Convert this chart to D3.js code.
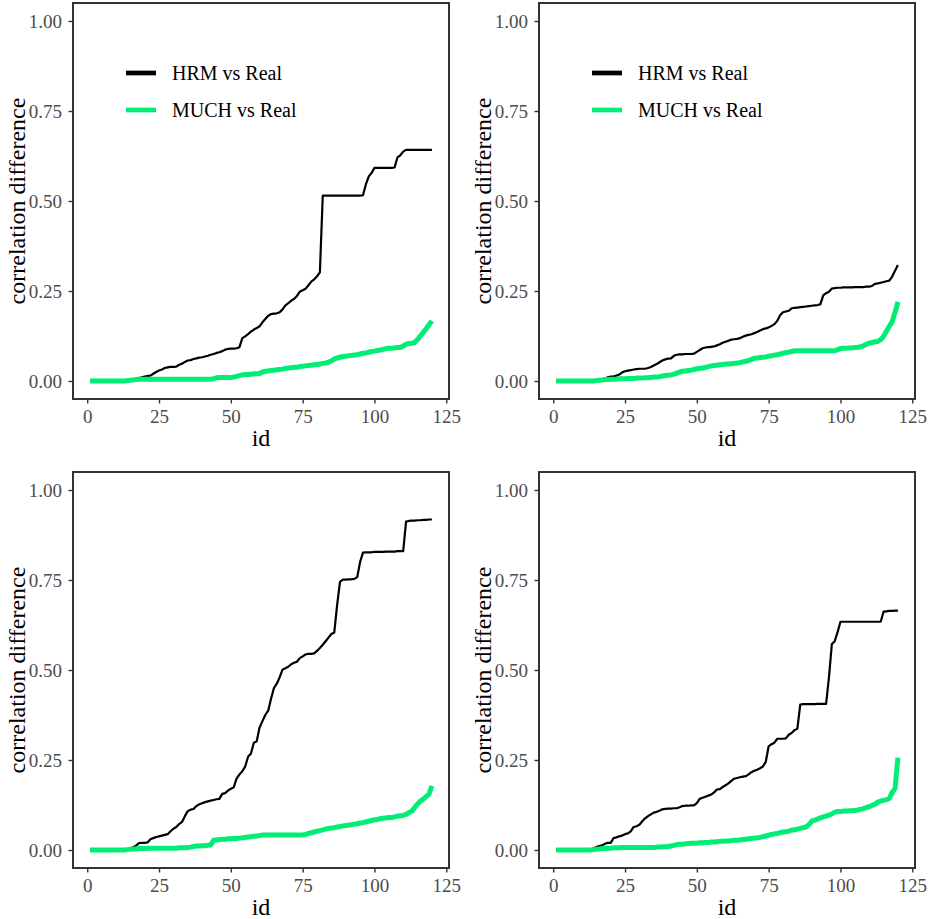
<!DOCTYPE html>
<html>
<head>
<meta charset="utf-8">
<script src="https://cdn.jsdelivr.net/npm/d3@7"></script>
<style>
  body { margin: 0; background: #fff; }
  svg { display: block; font-family: "Liberation Serif", "DejaVu Serif", serif; }
  .tick text { fill: #4d4d4d; font-size: 19px; font-family: "Liberation Serif", "DejaVu Serif", serif; }
  .tick line { stroke: #333; stroke-width: 1.4px; }
  .axis-title { fill: #000; font-size: 24px; }
  .legend-text { fill: #000; font-size: 20px; }
</style>
</head>
<body>
<script>
const width = 928;
const height = 919;

// grid of four panels
const panelW = 376;
const panelH = 396;
const colLeft = [73, 539];
const rowTop = [3, 472];

const xTicks = [0, 25, 50, 75, 100, 125];
const yTicks = [0, 0.25, 0.5, 0.75, 1];
const seriesNames = ["HRM vs Real", "MUCH vs Real"];
const seriesColors = ["#000000", "#00ee76"];

// sorted correlation differences per id (1..120)
const hrm1 = [
  0, 0, 0, 0, 0, 0, 0, 0, 0, 0,
  0, 0, 0, 0, 0.001, 0.002, 0.004, 0.008, 0.01, 0.012,
  0.014, 0.015, 0.02, 0.025, 0.029, 0.032, 0.036, 0.038, 0.039, 0.039,
  0.04, 0.045, 0.048, 0.053, 0.057, 0.058, 0.061, 0.063, 0.065, 0.066,
  0.068, 0.07, 0.073, 0.075, 0.078, 0.08, 0.083, 0.087, 0.089, 0.09,
  0.09, 0.091, 0.094, 0.119, 0.124, 0.13, 0.137, 0.143, 0.147, 0.152,
  0.163, 0.172, 0.181, 0.186, 0.187, 0.188, 0.191, 0.199, 0.21, 0.216,
  0.223, 0.228, 0.236, 0.248, 0.252, 0.256, 0.266, 0.276, 0.282, 0.291,
  0.302, 0.515, 0.515, 0.515, 0.515, 0.515, 0.515, 0.515, 0.515, 0.515,
  0.515, 0.515, 0.515, 0.515, 0.515, 0.516, 0.546, 0.568, 0.578, 0.592,
  0.592, 0.592, 0.592, 0.592, 0.592, 0.592, 0.593, 0.621, 0.627, 0.637,
  0.642, 0.642, 0.642, 0.642, 0.642, 0.642, 0.642, 0.642, 0.642, 0.642
];
const much1 = [
  0, 0, 0, 0, 0, 0, 0, 0, 0, 0,
  0, 0, 0, 0.001, 0.002, 0.003, 0.004, 0.005, 0.005, 0.005,
  0.005, 0.005, 0.005, 0.005, 0.005, 0.005, 0.005, 0.005, 0.005, 0.005,
  0.005, 0.005, 0.005, 0.005, 0.005, 0.005, 0.005, 0.005, 0.005, 0.005,
  0.005, 0.005, 0.005, 0.006, 0.009, 0.01, 0.01, 0.01, 0.01, 0.01,
  0.011, 0.013, 0.015, 0.017, 0.018, 0.018, 0.019, 0.02, 0.02, 0.021,
  0.025, 0.027, 0.028, 0.029, 0.03, 0.031, 0.032, 0.033, 0.035, 0.036,
  0.037, 0.038, 0.038, 0.04, 0.041, 0.042, 0.043, 0.044, 0.045, 0.046,
  0.047, 0.049, 0.05, 0.052, 0.056, 0.061, 0.064, 0.066, 0.068, 0.069,
  0.07, 0.071, 0.072, 0.073, 0.075, 0.077, 0.078, 0.08, 0.082, 0.083,
  0.085, 0.086, 0.088, 0.09, 0.091, 0.091, 0.092, 0.093, 0.093, 0.097,
  0.102, 0.104, 0.105, 0.107, 0.115, 0.125, 0.135, 0.145, 0.156, 0.167
];

const hrm2 = [
  0, 0, 0, 0, 0, 0, 0, 0, 0, 0,
  0, 0, 0, 0, 0.001, 0.002, 0.004, 0.007, 0.01, 0.012,
  0.013, 0.015, 0.018, 0.024, 0.027, 0.029, 0.03, 0.032, 0.033, 0.034,
  0.034, 0.034, 0.036, 0.039, 0.043, 0.047, 0.052, 0.057, 0.06, 0.062,
  0.063, 0.07, 0.073, 0.074, 0.074, 0.075, 0.075, 0.075, 0.076, 0.081,
  0.086, 0.091, 0.093, 0.094, 0.095, 0.096, 0.099, 0.102, 0.106, 0.109,
  0.112, 0.115, 0.116, 0.117, 0.119, 0.123, 0.126, 0.128, 0.13, 0.133,
  0.136, 0.14, 0.144, 0.146, 0.149, 0.153, 0.158, 0.167, 0.183, 0.191,
  0.193, 0.195, 0.202, 0.203, 0.204, 0.205, 0.206, 0.207, 0.208, 0.209,
  0.21, 0.211, 0.213, 0.238, 0.244, 0.248, 0.257, 0.258, 0.259, 0.259,
  0.26, 0.26, 0.26, 0.26, 0.261, 0.261, 0.261, 0.261, 0.262, 0.262,
  0.264, 0.27, 0.271, 0.273, 0.275, 0.277, 0.279, 0.29, 0.306, 0.322
];
const much2 = [
  0, 0, 0, 0, 0, 0, 0, 0, 0, 0,
  0, 0, 0, 0, 0.001, 0.002, 0.003, 0.004, 0.004, 0.005,
  0.005, 0.005, 0.006, 0.006, 0.006, 0.007, 0.007, 0.007, 0.008, 0.008,
  0.008, 0.009, 0.009, 0.01, 0.011, 0.011, 0.012, 0.014, 0.015, 0.016,
  0.017, 0.019, 0.022, 0.025, 0.027, 0.028, 0.029, 0.03, 0.032, 0.034,
  0.035, 0.036, 0.038, 0.04, 0.042, 0.043, 0.044, 0.045, 0.046, 0.047,
  0.047, 0.048, 0.049, 0.05, 0.051, 0.053, 0.055, 0.057, 0.06, 0.063,
  0.064, 0.065, 0.066, 0.067, 0.069, 0.07, 0.072, 0.073, 0.075, 0.077,
  0.079, 0.08, 0.082, 0.084, 0.084, 0.084, 0.084, 0.084, 0.084, 0.084,
  0.084, 0.084, 0.084, 0.084, 0.084, 0.084, 0.084, 0.084, 0.087, 0.09,
  0.091, 0.091, 0.092, 0.092, 0.093, 0.093, 0.095, 0.098, 0.102, 0.105,
  0.107, 0.109, 0.11, 0.115, 0.124, 0.138, 0.152, 0.165, 0.19, 0.22
];

const hrm3 = [
  0, 0, 0, 0, 0, 0, 0, 0, 0, 0,
  0, 0, 0, 0, 0.004, 0.008, 0.012, 0.019, 0.02, 0.02,
  0.021, 0.03, 0.033, 0.036, 0.038, 0.04, 0.042, 0.044, 0.052, 0.059,
  0.064, 0.072, 0.078, 0.094, 0.108, 0.112, 0.114, 0.122, 0.127, 0.13,
  0.133, 0.135, 0.137, 0.139, 0.141, 0.142, 0.156, 0.158, 0.165, 0.17,
  0.174, 0.198, 0.21, 0.219, 0.232, 0.259, 0.268, 0.298, 0.302, 0.34,
  0.358, 0.375, 0.387, 0.42, 0.45, 0.462, 0.48, 0.501, 0.505, 0.509,
  0.516, 0.52, 0.523, 0.533, 0.538, 0.543, 0.545, 0.545, 0.546, 0.553,
  0.561, 0.57, 0.58, 0.59, 0.6, 0.604, 0.68, 0.745, 0.751, 0.751,
  0.752, 0.752, 0.753, 0.758, 0.8, 0.826, 0.827, 0.827, 0.827, 0.828,
  0.828, 0.828, 0.828, 0.829, 0.829, 0.829, 0.829, 0.83, 0.83, 0.83,
  0.912, 0.914, 0.915, 0.915, 0.916, 0.916, 0.917, 0.917, 0.918, 0.918
];
const much3 = [
  0, 0, 0, 0, 0, 0, 0, 0, 0, 0,
  0, 0, 0, 0.001, 0.002, 0.003, 0.003, 0.004, 0.004, 0.004,
  0.005, 0.005, 0.005, 0.005, 0.005, 0.005, 0.005, 0.005, 0.005, 0.005,
  0.005, 0.006, 0.006, 0.006, 0.007, 0.008, 0.01, 0.011, 0.011, 0.012,
  0.012, 0.013, 0.014, 0.027, 0.028, 0.029, 0.03, 0.03, 0.031, 0.031,
  0.032, 0.032, 0.033, 0.034, 0.035, 0.036, 0.037, 0.038, 0.039, 0.04,
  0.042, 0.042, 0.042, 0.042, 0.042, 0.042, 0.042, 0.042, 0.042, 0.042,
  0.042, 0.042, 0.042, 0.042, 0.042, 0.043, 0.046, 0.048, 0.05, 0.052,
  0.054, 0.056, 0.058, 0.06, 0.061, 0.062, 0.064, 0.065, 0.067, 0.068,
  0.069, 0.07, 0.072, 0.073, 0.075, 0.076, 0.078, 0.08, 0.082, 0.084,
  0.085, 0.087, 0.088, 0.089, 0.09, 0.09, 0.092, 0.094, 0.095, 0.096,
  0.099, 0.104, 0.108, 0.118, 0.128, 0.136, 0.141, 0.148, 0.155, 0.178
];

const hrm4 = [
  0, 0, 0, 0, 0, 0, 0, 0, 0, 0,
  0, 0, 0, 0.005, 0.008, 0.011, 0.013, 0.017, 0.02, 0.02,
  0.033, 0.035, 0.038, 0.04, 0.044, 0.046, 0.052, 0.064, 0.066, 0.07,
  0.08, 0.088, 0.094, 0.099, 0.104, 0.106, 0.109, 0.113, 0.114, 0.115,
  0.115, 0.116, 0.116, 0.119, 0.122, 0.123, 0.123, 0.124, 0.124, 0.13,
  0.142, 0.145, 0.148, 0.151, 0.154, 0.16, 0.168, 0.169, 0.175, 0.18,
  0.185, 0.192, 0.198, 0.2, 0.202, 0.204, 0.205, 0.21, 0.216, 0.22,
  0.223, 0.227, 0.232, 0.245, 0.288, 0.294, 0.298, 0.309, 0.309, 0.309,
  0.31, 0.32, 0.325, 0.333, 0.337, 0.404, 0.405, 0.405, 0.405, 0.405,
  0.405, 0.406, 0.406, 0.406, 0.406, 0.48, 0.572, 0.58, 0.605, 0.634,
  0.634, 0.634, 0.634, 0.634, 0.634, 0.634, 0.634, 0.634, 0.634, 0.634,
  0.634, 0.634, 0.634, 0.634, 0.662, 0.663, 0.664, 0.664, 0.665, 0.665
];
const much4 = [
  0, 0, 0, 0, 0, 0, 0, 0, 0, 0,
  0, 0, 0, 0.001, 0.002, 0.003, 0.004, 0.004, 0.005, 0.005,
  0.006, 0.006, 0.006, 0.007, 0.007, 0.007, 0.007, 0.007, 0.007, 0.007,
  0.007, 0.007, 0.007, 0.007, 0.007, 0.008, 0.008, 0.009, 0.009, 0.01,
  0.011, 0.013, 0.015, 0.016, 0.016, 0.017, 0.018, 0.019, 0.019, 0.019,
  0.02, 0.02, 0.021, 0.021, 0.022, 0.022, 0.023, 0.024, 0.024, 0.025,
  0.025, 0.026, 0.027, 0.027, 0.028, 0.029, 0.03, 0.031, 0.032, 0.033,
  0.034, 0.035, 0.037, 0.039, 0.041, 0.043, 0.045, 0.046, 0.048, 0.05,
  0.051, 0.052, 0.055, 0.056, 0.058, 0.06, 0.062, 0.064, 0.07, 0.08,
  0.083, 0.086, 0.089, 0.092, 0.094, 0.097, 0.1, 0.105, 0.107, 0.107,
  0.108, 0.108, 0.109, 0.109, 0.11, 0.111, 0.113, 0.115, 0.118, 0.12,
  0.124, 0.127, 0.133, 0.136, 0.138, 0.14, 0.143, 0.16, 0.17, 0.256
];

const panels = [
  { series: [hrm1, much1], col: 0, row: 0, legend: true },
  { series: [hrm2, much2], col: 1, row: 0, legend: true },
  { series: [hrm3, much3], col: 0, row: 1, legend: false },
  { series: [hrm4, much4], col: 1, row: 1, legend: false }
];

const svg = d3
  .select("body")
  .append("svg")
  .attr("width", width)
  .attr("height", height);

// ggplot style 5% expansion: x data 1..120, y limits 0..1
const xScale = d3.scaleLinear().domain([1 - 5.95, 120 + 5.95]).range([0, panelW]);
const yScale = d3.scaleLinear().domain([-0.05, 1.05]).range([panelH, 0]);

const line = d3
  .line()
  .x((d, i) => xScale(i + 1))
  .y(d => yScale(d));

panels.forEach(p => {
  const g = svg
    .append("g")
    .attr("transform", `translate(${colLeft[p.col]},${rowTop[p.row]})`);

  // axes
  const xAxis = g
    .append("g")
    .attr("transform", `translate(0,${panelH})`)
    .call(d3.axisBottom(xScale).tickValues(xTicks).tickSize(4.5).tickPadding(6));
  xAxis.select(".domain").remove();
  xAxis.attr("font-family", null).attr("font-size", null);

  const yAxis = g
    .append("g")
    .call(
      d3
        .axisLeft(yScale)
        .tickValues(yTicks)
        .tickSize(4.5)
        .tickPadding(6.5)
        .tickFormat(d3.format(".2f"))
    );
  yAxis.select(".domain").remove();
  yAxis.attr("font-family", null).attr("font-size", null);

  // black first, green drawn over it
  p.series.forEach((s, k) => {
    g.append("path")
      .datum(s)
      .attr("fill", "none")
      .attr("stroke", seriesColors[k])
      .attr("stroke-width", k === 0 ? 2.2 : 5)
      .attr("stroke-linejoin", "round")
      .attr("d", line);
  });

  // panel border
  g.append("rect")
    .attr("x", 0)
    .attr("y", 0)
    .attr("width", panelW)
    .attr("height", panelH)
    .attr("fill", "none")
    .attr("stroke", "#333")
    .attr("stroke-width", 2);

  // axis titles
  g.append("text")
    .attr("class", "axis-title")
    .attr("x", panelW / 2)
    .attr("y", panelH + 47)
    .attr("text-anchor", "middle")
    .text("id");

  g.append("text")
    .attr("class", "axis-title")
    .attr("transform", `translate(-48.5,${panelH / 2}) rotate(-90)`)
    .attr("text-anchor", "middle")
    .text("correlation difference");

  if (p.legend) {
    const legend = g.append("g").attr("transform", "translate(53,70)");
    seriesNames.forEach((name, k) => {
      legend
        .append("line")
        .attr("x1", 0)
        .attr("x2", 30)
        .attr("y1", k * 37)
        .attr("y2", k * 37)
        .attr("stroke", seriesColors[k])
        .attr("stroke-width", 4.7);
      legend
        .append("text")
        .attr("class", "legend-text")
        .attr("x", 46)
        .attr("y", k * 37 + 7)
        .text(name);
    });
  }
});
</script>
</body>
</html>
